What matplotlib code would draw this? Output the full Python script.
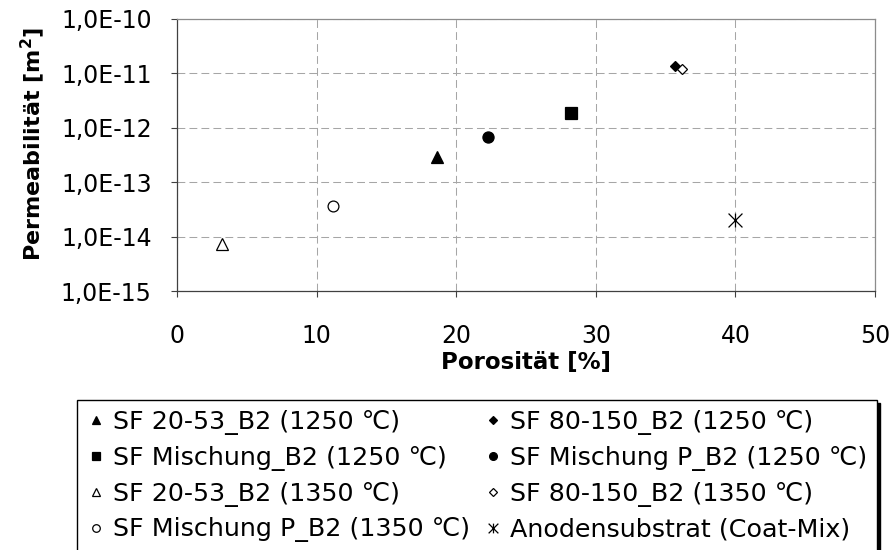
import matplotlib
matplotlib.use("Agg")
import matplotlib.pyplot as plt
from matplotlib.path import Path
from matplotlib.ticker import FixedLocator, FixedFormatter, NullLocator

# ---------------- data ----------------
labels = [
    "SF 20-53_B2 (1250 ℃)",
    "SF Mischung_B2 (1250 ℃)",
    "SF 20-53_B2 (1350 ℃)",
    "SF Mischung P_B2 (1350 ℃)",
    "SF 80-150_B2 (1250 ℃)",
    "SF Mischung P_B2 (1250 ℃)",
    "SF 80-150_B2 (1350 ℃)",
    "Anodensubstrat (Coat-Mix)",
]
porositaet = [18.6, 28.2, 3.2, 11.2, 35.7, 22.3, 36.2, 40.0]
permeabilitaet = [2.85e-13, 1.87e-12, 7.2e-15, 3.65e-14, 1.34e-11, 6.7e-13, 1.2e-11, 2.0e-14]

x_ticks = [0, 10, 20, 30, 40, 50]
y_ticks = [1e-15, 1e-14, 1e-13, 1e-12, 1e-11, 1e-10]
y_tick_labels = ["1,0E-15", "1,0E-14", "1,0E-13", "1,0E-12", "1,0E-11", "1,0E-10"]

x_label = "Porosität [%]"
y_label = r"Permeabilität [m$^{\mathbf{2}}$]"

# ---------------- style ----------------
plt.rcParams["font.family"] = ["DejaVu Sans"]
plt.rcParams["mathtext.fontset"] = "dejavusans"

star = Path([(-1, -1), (1, 1), (-1, 1), (1, -1), (0, -1), (0, 1)],
            [Path.MOVETO, Path.LINETO, Path.MOVETO, Path.LINETO, Path.MOVETO, Path.LINETO])

styles = [
    dict(marker="^", ms=8.0, mfc="black", mec="black"),
    dict(marker="s", ms=8.2, mfc="black", mec="black"),
    dict(marker="^", ms=8.0, mfc="white", mec="black"),
    dict(marker="o", ms=7.8, mfc="white", mec="black"),
    dict(marker="D", ms=5.6, mfc="black", mec="black"),
    dict(marker="o", ms=8.0, mfc="black", mec="black"),
    dict(marker="D", ms=5.6, mfc="white", mec="black"),
    dict(marker=star, ms=10.0, mfc="black", mec="black"),
]

W, H = 893, 550
fig = plt.figure(figsize=(W / 100, H / 100), dpi=100)
fig.patch.set_facecolor("white")

ax_left, ax_right, ax_top, ax_bottom = 177, 875, 18.8, 291.2
ax = fig.add_axes([ax_left / W, 1 - ax_bottom / H, (ax_right - ax_left) / W, (ax_bottom - ax_top) / H])

handles = []
for xv, yv, st in zip(porositaet, permeabilitaet, styles):
    h, = ax.plot([xv], [yv], linestyle="none", mew=0.9, zorder=3, clip_on=False, **st)
    handles.append(h)

ax.set_yscale("log")
ax.set_xlim(0, 50)
ax.set_ylim(1e-15, 1e-10)

ax.xaxis.set_major_locator(FixedLocator(x_ticks))
ax.yaxis.set_major_locator(FixedLocator(y_ticks))
ax.yaxis.set_major_formatter(FixedFormatter(y_tick_labels))
ax.yaxis.set_minor_locator(NullLocator())
ax.xaxis.set_minor_locator(NullLocator())

ax.grid(True, which="major", color="#a6a6a6", linestyle=(0, (7.5, 4)), linewidth=0.75, zorder=1)
ax.set_axisbelow(True)

for side in ["top", "right"]:
    ax.spines[side].set_color("#8c8c8c")
    ax.spines[side].set_linewidth(0.9)
for side in ["left", "bottom"]:
    ax.spines[side].set_color("#404040")
    ax.spines[side].set_linewidth(0.9)

ax.tick_params(axis="y", direction="out", length=4.3, width=0.8, color="#404040",
               labelsize=17, pad=13.9)
ax.tick_params(axis="x", direction="out", length=4.3, width=0.8, color="#404040",
               labelsize=17, pad=19.3)

ax.set_xlabel(x_label, fontsize=16.5, fontweight="bold")
ax.set_ylabel(y_label, fontsize=16, fontweight="bold")
ax.xaxis.set_label_coords(0.5, -0.218)
ax.yaxis.set_label_coords(-0.186, 0.54)

leg_left, leg_right, leg_top = 77, 877, 400
leg = fig.legend(
    handles, labels,
    loc="upper left",
    bbox_to_anchor=(leg_left / W, 0, (leg_right - leg_left) / W, 1 - leg_top / H),
    bbox_transform=fig.transFigure,
    mode="expand", ncol=2, fontsize=18.3,
    frameon=True, fancybox=False, framealpha=1, edgecolor="black",
    shadow={"color": "black", "alpha": 1},
    borderpad=0.38, labelspacing=0.43, handlelength=0.75, handletextpad=0.3,
    borderaxespad=0, markerscale=0.7, columnspacing=0.4,
)
leg.get_frame().set_linewidth(1.0)

fig.savefig("out.png", dpi=100)
